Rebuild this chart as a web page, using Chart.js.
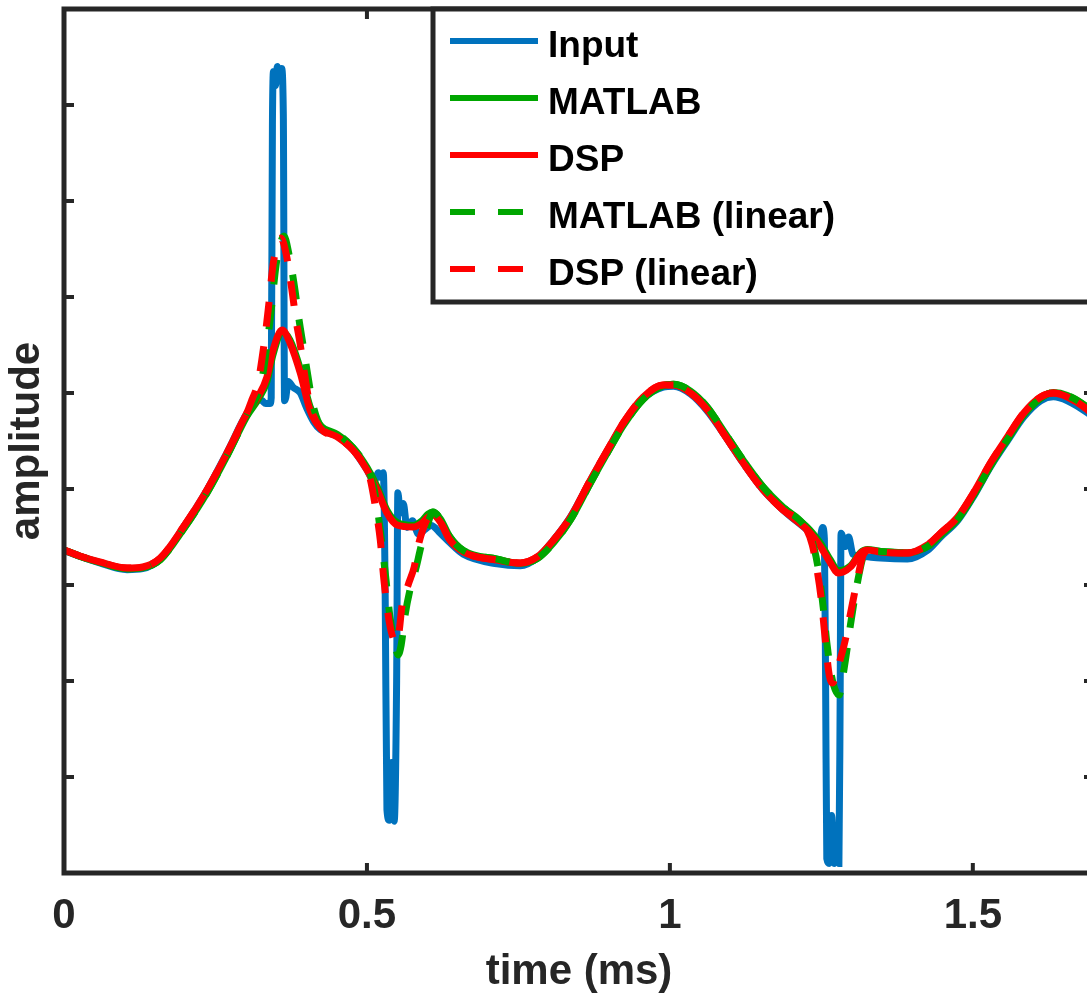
<!DOCTYPE html>
<html>
<head>
<meta charset="utf-8">
<script src="https://cdn.jsdelivr.net/npm/chart.js@4.4.1/dist/chart.umd.min.js"></script>
<style>
  html, body { margin: 0; padding: 0; background: #fff; overflow: hidden; }
  canvas { display: block; }
</style>
</head>
<body>
<canvas id="chart" width="1100" height="998"></canvas>
<script>
// time (ms), amplitude pairs
const inputData = [
  [0, -0.64], [0.026, -0.70], [0.059, -0.77], [0.104, -0.84], [0.13, -0.83], [0.159, -0.73],
  [0.197, -0.40], [0.236, -0.01], [0.269, 0.38], [0.302, 0.79], [0.32, 0.93], [0.327, 0.92],
  [0.333, 0.89], [0.34, 0.89], [0.342, 0.95], [0.344, 3.8], [0.346, 4.35], [0.349, 4.2],
  [0.352, 4.4], [0.356, 4.25], [0.359, 4.38], [0.362, 3.9], [0.364, 0.92], [0.366, 0.95],
  [0.37, 1.12], [0.378, 1.06], [0.39, 1.0], [0.4, 0.85], [0.412, 0.70], [0.423, 0.62],
  [0.451, 0.55], [0.477, 0.41], [0.5, 0.20], [0.512, 0.08], [0.519, 0.17], [0.523, 0.12],
  [0.527, 0.17], [0.53, -1.0], [0.533, -3.34], [0.537, -3.45], [0.541, -2.85], [0.545, -3.46],
  [0.549, -2.0], [0.551, -0.04], [0.555, -0.25], [0.56, -0.15], [0.566, -0.40], [0.575, -0.33],
  [0.585, -0.47], [0.596, -0.42], [0.606, -0.38], [0.621, -0.46], [0.637, -0.56], [0.659, -0.68],
  [0.715, -0.78], [0.753, -0.80], [0.781, -0.72], [0.808, -0.53], [0.836, -0.29], [0.869, 0.09],
  [0.897, 0.40], [0.923, 0.68], [0.956, 0.94], [0.989, 1.06], [1.006, 1.07], [1.034, 0.99],
  [1.062, 0.81], [1.088, 0.58], [1.121, 0.27], [1.154, -0.01], [1.187, -0.22], [1.227, -0.43],
  [1.239, -0.50], [1.246, -0.58], [1.252, -0.40], [1.255, -0.52], [1.257, -2.0], [1.259, -3.85],
  [1.263, -3.9], [1.267, -3.4], [1.271, -3.9], [1.275, -3.75], [1.279, -3.9], [1.281, -2.2],
  [1.2825, -0.46], [1.29, -0.60], [1.295, -0.50], [1.302, -0.68], [1.315, -0.70], [1.348, -0.72],
  [1.392, -0.73], [1.425, -0.64], [1.447, -0.50], [1.475, -0.33], [1.501, -0.08], [1.529, 0.23],
  [1.557, 0.50], [1.584, 0.75], [1.612, 0.92], [1.633, 0.96], [1.656, 0.92], [1.69, 0.79], [1.7, 0.74]
];

const matlabData = [
  [0, -0.635], [0.026, -0.70], [0.059, -0.765], [0.104, -0.83], [0.13, -0.82], [0.159, -0.735],
  [0.197, -0.42], [0.236, -0.04], [0.269, 0.345], [0.302, 0.76], [0.32, 0.93], [0.335, 1.12],
  [0.345, 1.40], [0.36, 1.64], [0.373, 1.55], [0.39, 1.25], [0.406, 0.86], [0.423, 0.665],
  [0.451, 0.57], [0.477, 0.43], [0.5, 0.225], [0.517, 0.02], [0.533, -0.22], [0.55, -0.35],
  [0.576, -0.38], [0.591, -0.33], [0.601, -0.26], [0.609, -0.24], [0.621, -0.31], [0.637, -0.50],
  [0.659, -0.64], [0.715, -0.73], [0.753, -0.775], [0.781, -0.725], [0.808, -0.56], [0.836, -0.32],
  [0.869, 0.065], [0.897, 0.38], [0.923, 0.66], [0.956, 0.935], [0.989, 1.075], [1.006, 1.09],
  [1.034, 1.02], [1.062, 0.85], [1.088, 0.61], [1.121, 0.30], [1.154, 0.02], [1.187, -0.19],
  [1.227, -0.40], [1.237, -0.47], [1.249, -0.57], [1.265, -0.74], [1.278, -0.85], [1.298, -0.80],
  [1.315, -0.66], [1.326, -0.63], [1.348, -0.65], [1.392, -0.665], [1.425, -0.60], [1.447, -0.48],
  [1.475, -0.315], [1.501, -0.07], [1.529, 0.24], [1.557, 0.515], [1.584, 0.77], [1.612, 0.945],
  [1.633, 1.005], [1.656, 0.975], [1.69, 0.845], [1.7, 0.785]
];

const dspData = [
  [0, -0.635], [0.026, -0.698], [0.059, -0.76], [0.104, -0.823], [0.13, -0.812], [0.159, -0.719],
  [0.197, -0.396], [0.236, -0.01], [0.269, 0.375], [0.302, 0.792], [0.32, 0.958], [0.335, 1.167],
  [0.345, 1.448], [0.36, 1.656], [0.373, 1.521], [0.39, 1.208], [0.406, 0.823], [0.423, 0.635],
  [0.451, 0.542], [0.477, 0.406], [0.5, 0.198], [0.517, -0.01], [0.533, -0.25], [0.55, -0.375],
  [0.576, -0.396], [0.591, -0.354], [0.601, -0.292], [0.609, -0.271], [0.621, -0.344], [0.637, -0.531],
  [0.659, -0.656], [0.715, -0.74], [0.753, -0.771], [0.781, -0.708], [0.808, -0.531], [0.836, -0.292],
  [0.869, 0.094], [0.897, 0.406], [0.923, 0.688], [0.956, 0.958], [0.989, 1.083], [1.006, 1.083],
  [1.034, 1.0], [1.062, 0.823], [1.088, 0.583], [1.121, 0.271], [1.154, -0.01], [1.187, -0.219],
  [1.227, -0.427], [1.237, -0.5], [1.249, -0.604], [1.265, -0.771], [1.278, -0.875], [1.298, -0.812],
  [1.315, -0.667], [1.326, -0.635], [1.348, -0.656], [1.392, -0.667], [1.425, -0.583], [1.447, -0.458],
  [1.475, -0.292], [1.501, -0.042], [1.529, 0.271], [1.557, 0.542], [1.584, 0.792], [1.612, 0.958],
  [1.633, 1.0], [1.656, 0.958], [1.69, 0.823], [1.7, 0.76]
];

const matlabLinData = [
  [0, -0.635], [0.026, -0.70], [0.059, -0.765], [0.104, -0.83], [0.13, -0.82], [0.159, -0.735],
  [0.197, -0.42], [0.236, -0.04], [0.269, 0.345], [0.304, 0.792], [0.3155, 0.927], [0.325, 1.083],
  [0.335, 1.5], [0.342, 1.865], [0.35, 2.333], [0.3565, 2.542], [0.363, 2.635], [0.3715, 2.438],
  [0.38, 2.125], [0.388, 1.76], [0.3945, 1.5], [0.401, 1.24], [0.411, 0.875], [0.426, 0.635],
  [0.451, 0.57], [0.477, 0.43], [0.5, 0.225], [0.5085, 0.094], [0.517, -0.198], [0.525, -0.583],
  [0.532, -0.979], [0.538, -1.333], [0.545, -1.573], [0.5515, -1.729], [0.5565, -1.625], [0.563, -1.3125],
  [0.571, -1.052], [0.581, -0.823], [0.5895, -0.594], [0.598, -0.417], [0.609, -0.24], [0.621, -0.31],
  [0.637, -0.50], [0.659, -0.64], [0.715, -0.73], [0.753, -0.775], [0.781, -0.725], [0.808, -0.56],
  [0.836, -0.32], [0.869, 0.065], [0.897, 0.38], [0.923, 0.66], [0.956, 0.935], [0.989, 1.075],
  [1.006, 1.09], [1.034, 1.02], [1.062, 0.85], [1.088, 0.61], [1.121, 0.30], [1.154, 0.02],
  [1.187, -0.19], [1.2265, -0.427], [1.238, -0.615], [1.2465, -0.896], [1.253, -1.229], [1.2595, -1.625],
  [1.2665, -1.938], [1.273, -2.094], [1.2795, -2.146], [1.2845, -1.99], [1.291, -1.729], [1.298, -1.417],
  [1.3045, -1.156], [1.311, -0.927], [1.319, -0.708], [1.331, -0.646], [1.348, -0.65], [1.392, -0.665],
  [1.425, -0.60], [1.447, -0.48], [1.475, -0.315], [1.501, -0.07], [1.529, 0.24], [1.557, 0.515],
  [1.584, 0.77], [1.612, 0.945], [1.633, 1.005], [1.656, 0.975], [1.69, 0.845], [1.7, 0.785]
];

const dspLinData = [
  [0, -0.635], [0.026, -0.698], [0.059, -0.76], [0.104, -0.823], [0.13, -0.812], [0.159, -0.719],
  [0.197, -0.396], [0.236, -0.01], [0.269, 0.375], [0.299, 0.75], [0.31, 0.927], [0.32, 1.104],
  [0.33, 1.5], [0.337, 1.865], [0.345, 2.333], [0.352, 2.542], [0.358, 2.615], [0.367, 2.438],
  [0.375, 2.125], [0.383, 1.76], [0.39, 1.5], [0.396, 1.24], [0.406, 0.875], [0.423, 0.635],
  [0.451, 0.542], [0.477, 0.406], [0.5, 0.198], [0.505, 0.115], [0.5135, -0.167], [0.522, -0.531],
  [0.528, -0.948], [0.535, -1.3125], [0.5415, -1.52], [0.548, -1.604], [0.553, -1.49], [0.558, -1.21],
  [0.568, -1.0], [0.578, -0.8125], [0.585, -0.583], [0.592, -0.427], [0.601, -0.30], [0.609, -0.271],
  [0.621, -0.344], [0.637, -0.531], [0.659, -0.656], [0.715, -0.74], [0.753, -0.771], [0.781, -0.708],
  [0.808, -0.531], [0.836, -0.292], [0.869, 0.094], [0.897, 0.406], [0.923, 0.688], [0.956, 0.958],
  [0.989, 1.083], [1.006, 1.083], [1.034, 1.0], [1.062, 0.823], [1.088, 0.583], [1.121, 0.271],
  [1.154, -0.01], [1.187, -0.219], [1.2235, -0.396], [1.235, -0.583], [1.243, -0.844], [1.25, -1.156],
  [1.2565, -1.573], [1.263, -1.938], [1.268, -2.021], [1.2745, -1.938], [1.281, -1.781], [1.2895, -1.573],
  [1.296, -1.365], [1.3025, -1.156], [1.311, -0.896], [1.319, -0.688], [1.331, -0.635], [1.348, -0.656],
  [1.392, -0.667], [1.425, -0.583], [1.447, -0.458], [1.475, -0.292], [1.501, -0.042], [1.529, 0.271],
  [1.557, 0.542], [1.584, 0.792], [1.612, 0.958], [1.633, 1.0], [1.656, 0.958], [1.69, 0.823], [1.7, 0.76]
];

const seriesNames = ['Input', 'MATLAB', 'DSP', 'MATLAB (linear)', 'DSP (linear)'];
const seriesColors = ['#0072BD', '#00A600', '#FF0000', '#00A600', '#FF0000'];
const seriesDashed = [false, false, false, true, true];
const xTickStep = 0.5;
const yTickStep = 1;

const axisColor = '#262626';
const fontFamily = '"Liberation Sans", Arial, Helvetica, sans-serif';
const dashPattern = [25, 20];

Chart.defaults.font.family = fontFamily;

const toPoints = (pairs) => pairs.map(p => ({ x: p[0], y: p[1] }));
const allData = [inputData, matlabData, dspData, matlabLinData, dspLinData];

const datasets = allData.map((d, i) => ({
  label: seriesNames[i],
  data: toPoints(d),
  borderColor: seriesColors[i],
  borderWidth: 7,
  borderDash: seriesDashed[i] ? dashPattern : [],
  pointRadius: 0,
  fill: false,
  cubicInterpolationMode: 'monotone',
  order: allData.length - i
}));

// box, inward ticks and the legend, drawn over the lines like MATLAB does
const frame = {
  id: 'frame',
  afterDatasetsDraw(chart) {
    const ctx = chart.ctx;
    const a = chart.chartArea;
    const x = chart.scales.x;
    const y = chart.scales.y;
    const tl = 10;

    ctx.save();
    ctx.strokeStyle = axisColor;
    ctx.lineWidth = 4;
    ctx.beginPath();
    x.ticks.forEach(t => {
      const px = x.getPixelForValue(t.value);
      ctx.moveTo(px, a.bottom);
      ctx.lineTo(px, a.bottom - tl);
      ctx.moveTo(px, a.top);
      ctx.lineTo(px, a.top + tl);
    });
    y.ticks.forEach(t => {
      const py = y.getPixelForValue(t.value);
      ctx.moveTo(a.left, py);
      ctx.lineTo(a.left + tl, py);
      ctx.moveTo(a.right, py);
      ctx.lineTo(a.right - tl, py);
    });
    ctx.stroke();

    ctx.lineWidth = 5;
    ctx.strokeRect(a.left, a.top, a.right - a.left, a.bottom - a.top);

    // legend
    const lx = 433, ly = a.top, lw = 700, lh = 302 - a.top;
    ctx.fillStyle = '#fff';
    ctx.fillRect(lx, ly, lw, lh);
    ctx.lineWidth = 5;
    ctx.strokeRect(lx, ly, lw, lh);

    ctx.font = 'bold 37px ' + fontFamily;
    ctx.textAlign = 'left';
    ctx.textBaseline = 'alphabetic';
    seriesNames.forEach((name, i) => {
      const yy = 41 + i * 57;
      ctx.beginPath();
      ctx.lineWidth = 6;
      ctx.strokeStyle = seriesColors[i];
      ctx.setLineDash(seriesDashed[i] ? [25, 23] : []);
      ctx.moveTo(450, yy);
      ctx.lineTo(538, yy);
      ctx.stroke();
      ctx.setLineDash([]);
      ctx.fillStyle = '#000';
      ctx.fillText(name, 548, yy + 16);
    });
    ctx.restore();
  }
};

new Chart(document.getElementById('chart'), {
  type: 'line',
  data: { datasets: datasets },
  options: {
    responsive: false,
    animation: false,
    devicePixelRatio: 1,
    layout: { padding: { left: 0, right: 6, top: 9, bottom: 0 } },
    plugins: { legend: { display: false }, tooltip: { enabled: false } },
    scales: {
      x: {
        type: 'linear',
        min: 0,
        max: 1.7,
        border: { display: false },
        grid: { display: false, drawTicks: false },
        ticks: {
          stepSize: xTickStep,
          includeBounds: false,
          autoSkip: false,
          maxRotation: 0,
          padding: 18,
          color: axisColor,
          font: { size: 42, weight: 'bold' },
          callback: (value) => String(value)
        },
        title: {
          display: true,
          text: 'time (ms)',
          color: axisColor,
          padding: { top: 0, bottom: 0 },
          font: { size: 42, weight: 'bold' }
        },
        afterFit(scale) { scale.height = 125; }
      },
      y: {
        type: 'linear',
        min: -4,
        max: 5,
        border: { display: false },
        grid: { display: false, drawTicks: false },
        ticks: { stepSize: yTickStep, display: false },
        title: {
          display: true,
          text: 'amplitude',
          color: axisColor,
          padding: { top: 2, bottom: 0 },
          font: { size: 42, weight: 'bold' }
        },
        afterFit(scale) { scale.width = 64; }
      }
    }
  },
  plugins: [frame]
});
</script>
</body>
</html>
